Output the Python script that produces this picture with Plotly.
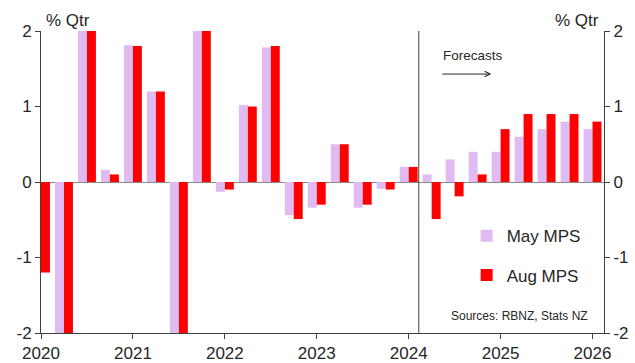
import plotly.graph_objects as go

quarters = ["2020Q1", "2020Q2", "2020Q3", "2020Q4",
            "2021Q1", "2021Q2", "2021Q3", "2021Q4",
            "2022Q1", "2022Q2", "2022Q3", "2022Q4",
            "2023Q1", "2023Q2", "2023Q3", "2023Q4",
            "2024Q1", "2024Q2", "2024Q3", "2024Q4",
            "2025Q1", "2025Q2", "2025Q3", "2025Q4",
            "2026Q1"]

may_mps = [None, -10.3, 13.9, 0.16,
           1.81, 1.2, -3.7, 3.0,
           -0.13, 1.02, 1.78, -0.44,
           -0.34, 0.5, -0.34, -0.09,
           0.2, 0.1, 0.3, 0.4,
           0.4, 0.6, 0.7, 0.8,
           0.7]

aug_mps = [-1.2, -10.3, 13.9, 0.1,
           1.8, 1.2, -3.7, 3.0,
           -0.1, 1.0, 1.8, -0.49,
           -0.3, 0.5, -0.3, -0.1,
           0.2, -0.49, -0.19, 0.1,
           0.7, 0.9, 0.9, 0.9,
           0.8]

year_ticks = [2020, 2021, 2022, 2023, 2024, 2025, 2026]
y_ticks = [-2, -1, 0, 1, 2]
y_tick_labels = ["-2", "-1", "0", "1", "2"]

x_vals = [int(q[:4]) + (int(q[-1]) - 1) / 4 for q in quarters]

FONT = "Liberation Sans, Arial, sans-serif"
TXT = "#262626"
AX = "#404040"
PINK = "rgb(223,187,241)"
RED = "#FF0000"

fig = go.Figure()
fig.add_trace(go.Bar(x=x_vals, y=may_mps, name="May MPS", marker_color=PINK,
                     marker_line_width=0, legendgroup="a"))
fig.add_trace(go.Bar(x=x_vals, y=aug_mps, name="Aug MPS", marker_color=RED,
                     marker_line_width=0, legendgroup="b"))
# invisible trace to display the right-hand axis
fig.add_trace(go.Scatter(x=x_vals, y=aug_mps, yaxis="y2", mode="markers",
                         marker=dict(opacity=0), showlegend=False, hoverinfo="skip"))

axis_common = dict(range=[-2, 2], tickvals=y_ticks, ticktext=y_tick_labels,
                   showgrid=False, showline=True, automargin=False,
                   linecolor=AX, linewidth=1, ticks="outside", ticklen=5,
                   tickcolor=AX, tickfont=dict(family=FONT, size=17, color=TXT))

fig.update_layout(
    width=635, height=363,
    margin=dict(l=41, r=31, t=31, b=30, autoexpand=False),
    plot_bgcolor="white", paper_bgcolor="white",
    barmode="group", bargap=0.22, bargroupgap=0,
    font=dict(family=FONT, color=TXT),
    xaxis=dict(range=[2020, 2026.125], tickvals=year_ticks,
               ticktext=[str(y) for y in year_ticks], showgrid=False,
               showline=True, linecolor=AX, linewidth=1, ticks="outside",
               ticklen=5, tickcolor=AX, zeroline=False, automargin=False,
               tickfont=dict(family=FONT, size=17, color=TXT)),
    yaxis=dict(**axis_common, zeroline=True, zerolinecolor="#8c8c8c", zerolinewidth=1),
    yaxis2=dict(**axis_common, overlaying="y", side="right", zeroline=False),
    legend=dict(x=0.756, y=0.38, xanchor="left", yanchor="top",
                font=dict(family=FONT, size=17, color=TXT),
                tracegroupgap=14, bgcolor="rgba(0,0,0,0)"),
    showlegend=True,
)

# forecast divider
fig.add_shape(type="line", xref="x", yref="y", x0=2024.11, x1=2024.11, y0=-2, y1=2,
              line=dict(color=AX, width=1))

fig.add_annotation(xref="paper", yref="paper", x=0, y=1, xanchor="left", yanchor="middle",
                   xshift=3, yshift=11, text="% Qtr", showarrow=False,
                   font=dict(family=FONT, size=17, color=TXT))
fig.add_annotation(xref="paper", yref="paper", x=1, y=1, xanchor="right", yanchor="middle",
                   xshift=-3, yshift=11, text="% Qtr", showarrow=False,
                   font=dict(family=FONT, size=17, color=TXT))
fig.add_annotation(xref="paper", yref="y", x=0.71, y=1.68, xanchor="left", yanchor="middle",
                   text="Forecasts", showarrow=False,
                   font=dict(family=FONT, size=13.5, color=TXT))
fig.add_annotation(xref="x", yref="y", axref="x", ayref="y",
                   x=2024.90, y=1.43, ax=2024.35, ay=1.43, text="",
                   showarrow=True, arrowhead=5, arrowsize=1.1, arrowwidth=1,
                   arrowcolor=TXT)
fig.add_annotation(xref="paper", yref="y", x=0.97, y=-1.775, xanchor="right", yanchor="middle",
                   xshift=3, text="Sources: RBNZ, Stats NZ", showarrow=False,
                   font=dict(family=FONT, size=12, color=TXT))

fig.write_html("out.html")
